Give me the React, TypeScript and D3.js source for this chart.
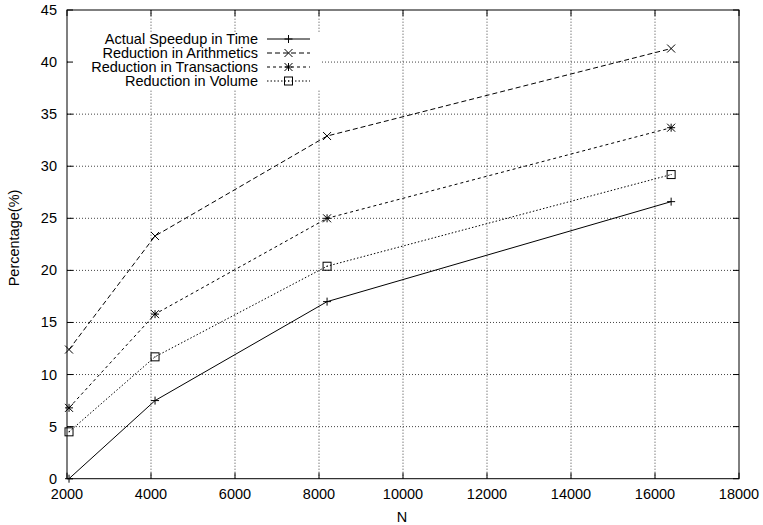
import React from "react";
import * as d3 from "d3";

const xValues = [2048, 4096, 8192, 16384];
const timeSpeedup = [0, 7.5, 17.0, 26.6];
const arithmetics = [12.4, 23.3, 32.9, 41.3];
const transactions = [6.8, 15.8, 25.0, 33.7];
const volume = [4.5, 11.7, 20.4, 29.2];
const xTicks = [2000, 4000, 6000, 8000, 10000, 12000, 14000, 16000, 18000];
const yTicks = [0, 5, 10, 15, 20, 25, 30, 35, 40, 45];
const seriesNames = [
  "Actual Speedup in Time",
  "Reduction in Arithmetics",
  "Reduction in Transactions",
  "Reduction in Volume",
];

const W = 763, H = 525;
const L = 67, R = 739, T = 10, B = 478.7;
const FONT = "'Liberation Sans', Arial, Helvetica, sans-serif";
const FS = 14.5;

type Marker = "plus" | "cross" | "star" | "square";

function MarkerShape({ type, x, y }: { type: Marker; x: number; y: number }) {
  const s = 4;
  const st = { stroke: "#000", strokeWidth: 1, fill: "none" };
  if (type === "plus")
    return <path d={`M${x - s},${y}H${x + s}M${x},${y - s}V${y + s}`} {...st} />;
  if (type === "cross")
    return <path d={`M${x - s},${y - s}L${x + s},${y + s}M${x - s},${y + s}L${x + s},${y - s}`} {...st} />;
  if (type === "star")
    return (
      <path
        d={`M${x - s},${y}H${x + s}M${x},${y - s}V${y + s}M${x - s},${y - s}L${x + s},${y + s}M${x - s},${y + s}L${x + s},${y - s}`}
        {...st}
      />
    );
  return (
    <g>
      <rect x={x - s} y={y - s} width={2 * s} height={2 * s} {...st} />
      <rect x={x - 0.5} y={y - 0.5} width={1} height={1} fill="#000" />
    </g>
  );
}

export default function App() {
  const x = d3.scaleLinear().domain([2000, 18000]).range([L, R]);
  const y = d3.scaleLinear().domain([0, 45]).range([B, T]);
  const series = [
    { name: seriesNames[0], data: timeSpeedup, dash: "none", marker: "plus" as Marker },
    { name: seriesNames[1], data: arithmetics, dash: "5,3", marker: "cross" as Marker },
    { name: seriesNames[2], data: transactions, dash: "3,3", marker: "star" as Marker },
    { name: seriesNames[3], data: volume, dash: "1.5,2", marker: "square" as Marker },
  ];
  const line = d3
    .line<number>()
    .x((_, i) => x(xValues[i]))
    .y((d) => y(d));

  const legX = 258, legY0 = 39, legDy = 14;

  return (
    <svg
      width={W}
      height={H}
      style={{ position: "absolute", left: 0, top: 0, background: "#fff" }}
      fontFamily={FONT}
    >
      <rect width={W} height={H} fill="#fff" />
      {/* grid */}
      <g stroke="#444" strokeWidth={1} strokeDasharray="1,2">
        {xTicks.slice(1, -1).map((t) => (
          <line key={"gx" + t} x1={x(t)} x2={x(t)} y1={B} y2={T} />
        ))}
        {yTicks.slice(1, -1).map((t) => (
          <line key={"gy" + t} x1={L} x2={R} y1={y(t)} y2={y(t)} />
        ))}
      </g>
      {/* opaque legend background */}
      <rect x={L + 1} y={32} width={252} height={57} fill="#fff" />
      {/* ticks */}
      <g stroke="#000" strokeWidth={1}>
        {xTicks.map((t) => (
          <g key={"tx" + t}>
            <line x1={x(t)} x2={x(t)} y1={B} y2={B - 6} />
            <line x1={x(t)} x2={x(t)} y1={T} y2={T + 6} />
          </g>
        ))}
        {yTicks.map((t) => (
          <g key={"ty" + t}>
            <line x1={L} x2={L + 6} y1={y(t)} y2={y(t)} />
            <line x1={R} x2={R - 6} y1={y(t)} y2={y(t)} />
          </g>
        ))}
      </g>
      {/* tick labels */}
      <g fontSize={FS} fill="#000">
        {xTicks.map((t) => (
          <text key={"lx" + t} x={x(t)} y={499} textAnchor="middle">
            {t}
          </text>
        ))}
        {yTicks.map((t) => (
          <text key={"ly" + t} x={L - 10} y={y(t) + 5} textAnchor="end">
            {t}
          </text>
        ))}
      </g>
      {/* axis labels */}
      <text x={402} y={522} textAnchor="middle" fontSize={FS}>
        N
      </text>
      <text transform={`translate(19,238) rotate(-90)`} textAnchor="middle" fontSize={FS}>
        Percentage(%)
      </text>
      {/* series */}
      {series.map((s) => (
        <g key={s.name}>
          <path
            d={line(s.data) || ""}
            fill="none"
            stroke="#000"
            strokeWidth={1}
            strokeDasharray={s.dash}
          />
          {s.data.map((v, i) => (
            <MarkerShape key={i} type={s.marker} x={x(xValues[i])} y={y(v)} />
          ))}
        </g>
      ))}
      {/* legend */}
      {series.map((s, i) => {
        const ly = legY0 + i * legDy;
        return (
          <g key={"leg" + i}>
            <text x={legX} y={ly + 5} textAnchor="end" fontSize={FS}>
              {s.name}
            </text>
            <line
              x1={267}
              x2={310}
              y1={ly}
              y2={ly}
              stroke="#000"
              strokeWidth={1}
              strokeDasharray={s.dash}
            />
            <MarkerShape type={s.marker} x={288.5} y={ly} />
          </g>
        );
      })}
      {/* frame */}
      <rect x={L} y={T} width={R - L} height={B - T} fill="none" stroke="#000" strokeWidth={1} />
    </svg>
  );
}
